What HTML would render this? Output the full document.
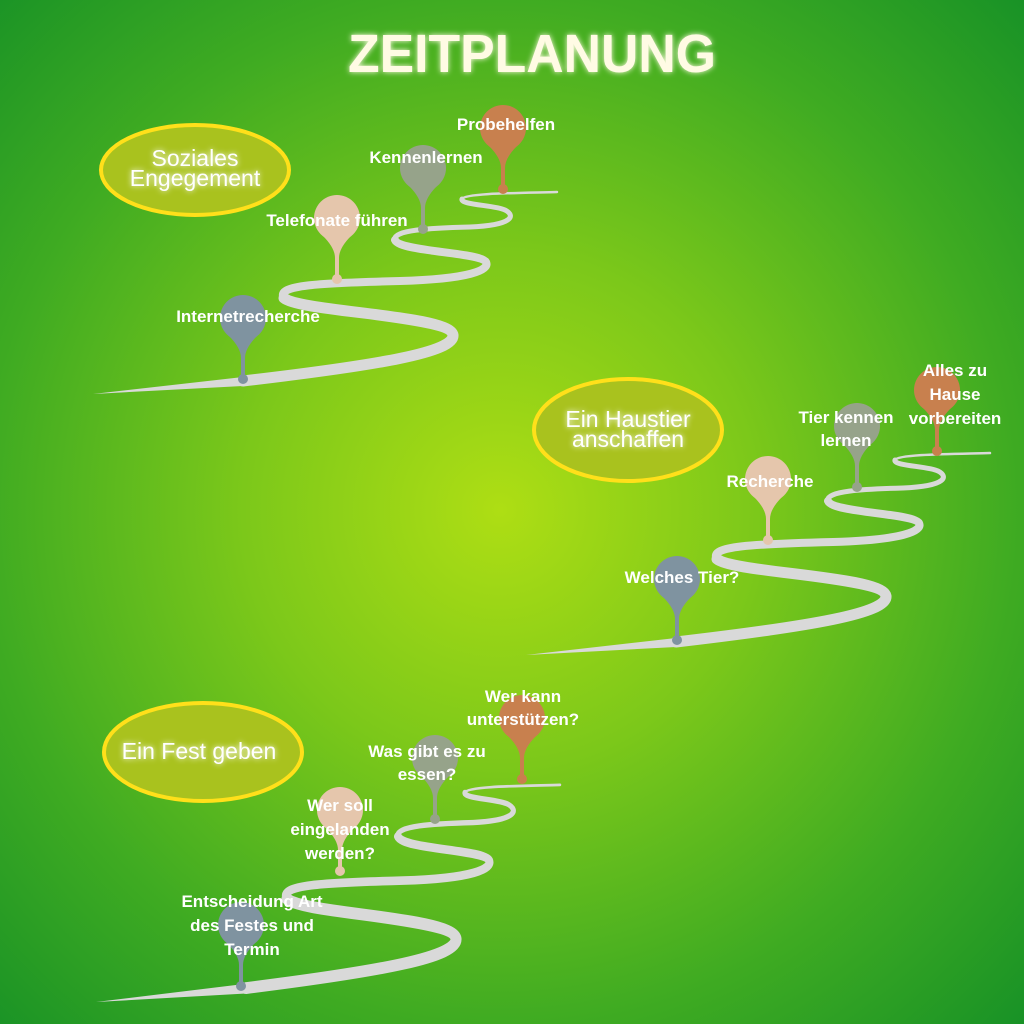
<!DOCTYPE html>
<html><head><meta charset="utf-8"><style>
html,body{margin:0;padding:0;width:1024px;height:1024px;overflow:hidden}
body{background:radial-gradient(circle at 500px 510px,#aede14 0%,#7cc81a 35%,#3fab22 70%,#189226 100%);font-family:"Liberation Sans",sans-serif}
svg{position:absolute;left:0;top:0}
</style></head><body>
<svg width="1024" height="1024" viewBox="0 0 1024 1024">
<defs>
<filter id="glow" x="-20%" y="-50%" width="140%" height="200%"><feGaussianBlur stdDeviation="3" result="b"/><feMerge><feMergeNode in="b"/><feMergeNode in="SourceGraphic"/></feMerge></filter>
<g id="road" fill="none" stroke="#d9d9d9" stroke-linecap="round">
<path d="M93,394 L243,377 L243,386 Z" fill="#d9d9d9" stroke="none"/>
<path d="M243,381 C380,365 455,352 453,335 C450,315 300,312 284,298" stroke-width="11"/>
<path d="M284,298 C275,285 320,283 400,281 C470,279 490,270 486,262 C480,252 400,252 395,240" stroke-width="8"/>
<path d="M395,240 C392,230 430,228 470,227 C515,225 515,215 505,210 C495,205 460,205 462,199" stroke-width="5"/>
<path d="M462,199 C465,193 520,193 557,192" stroke-width="2.5"/>
</g>
<g id="pin"><circle cx="0" cy="0" r="23"/><path d="M-14,18 Q-2,30 -2,40 L-2,60 L2,60 L2,40 Q2,30 14,18 Z"/><circle cx="0" cy="61" r="5"/></g>
</defs>
<text x="532" y="72" text-anchor="middle" font-family="Liberation Sans" font-weight="bold" font-size="54" fill="#fffbe4" textLength="368" lengthAdjust="spacingAndGlyphs" filter="url(#glow)">ZEITPLANUNG</text>

<use href="#road"/>
<use href="#road" transform="translate(433,261)"/>
<use href="#road" transform="translate(3,578.5) scale(1,1.075)"/>

<g font-weight="bold" font-size="17" fill="#fff" text-anchor="middle">
<use href="#pin" x="243" y="318" fill="#7f93a0"/>
<use href="#pin" x="337" y="218" fill="#e5c6ac"/>
<use href="#pin" x="423" y="168" fill="#96a38a"/>
<use href="#pin" x="503" y="128" fill="#c8804e"/>
<text x="248" y="322">Internetrecherche</text>
<text x="337" y="226">Telefonate führen</text>
<text x="426" y="163">Kennenlernen</text>
<text x="506" y="130">Probehelfen</text>

<use href="#pin" x="677" y="579" fill="#7f93a0"/>
<use href="#pin" x="768" y="479" fill="#e5c6ac"/>
<use href="#pin" x="857" y="426" fill="#96a38a"/>
<use href="#pin" x="937" y="390" fill="#c8804e"/>
<text x="682" y="583">Welches Tier?</text>
<text x="770" y="487">Recherche</text>
<text x="846" y="423">Tier kennen</text><text x="846" y="446">lernen</text>
<text x="955" y="376">Alles zu</text><text x="955" y="400">Hause</text><text x="955" y="424">vorbereiten</text>

<use href="#pin" x="241" y="925" fill="#7f93a0"/>
<use href="#pin" x="340" y="810" fill="#e5c6ac"/>
<use href="#pin" x="435" y="758" fill="#96a38a"/>
<use href="#pin" x="522" y="718" fill="#c8804e"/>
<text x="252" y="907">Entscheidung Art</text><text x="252" y="931">des Festes und</text><text x="252" y="955">Termin</text>
<text x="340" y="811">Wer soll</text><text x="340" y="835">eingelanden</text><text x="340" y="859">werden?</text>
<text x="427" y="757">Was gibt es zu</text><text x="427" y="780">essen?</text>
<text x="523" y="702">Wer kann</text><text x="523" y="725">unterstützen?</text>
</g>

<g fill="#a9c21e" stroke="#ffe01a" stroke-width="4">
<ellipse cx="195" cy="170" rx="94" ry="45"/>
<ellipse cx="628" cy="430" rx="94" ry="51"/>
<ellipse cx="203" cy="752" rx="99" ry="49"/>
</g>
<g fill="#fff" font-size="23" text-anchor="middle" filter="url(#glow)">
<text x="195" y="166">Soziales</text><text x="195" y="186">Engegement</text>
<text x="628" y="427">Ein Haustier</text><text x="628" y="447">anschaffen</text>
<text x="199" y="759">Ein Fest geben</text>
</g>
</svg>
</body></html>
